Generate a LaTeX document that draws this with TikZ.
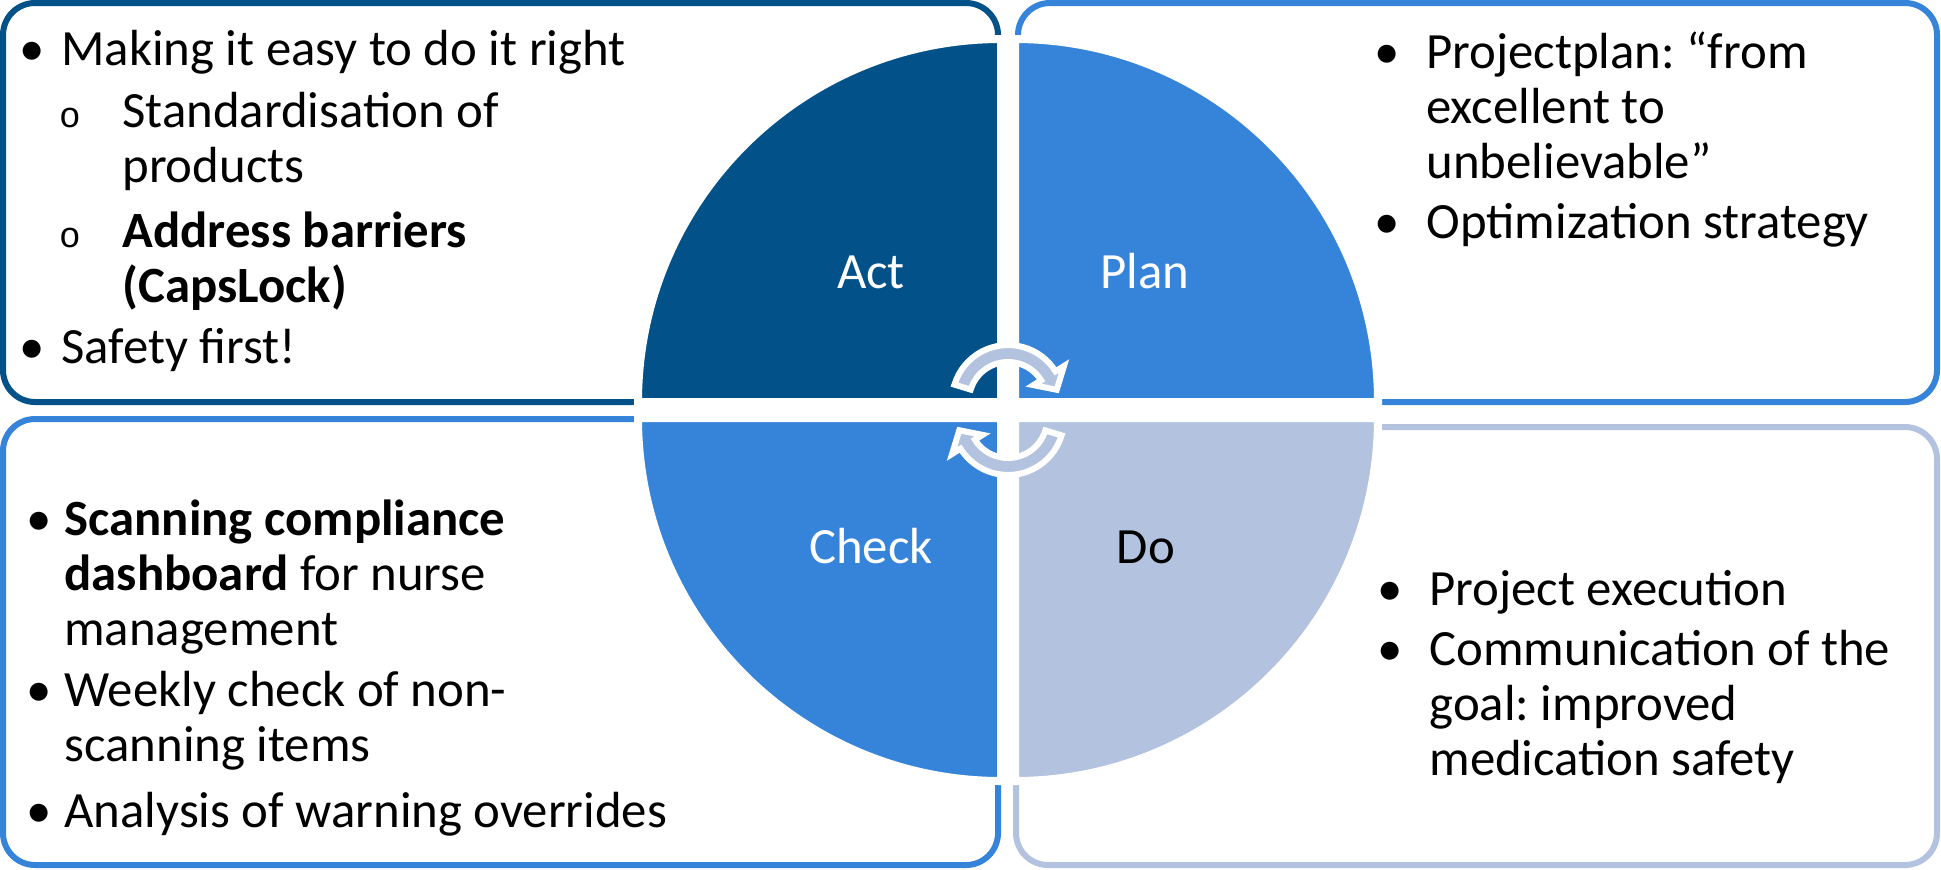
\documentclass[tikz,border=0pt]{standalone}
\usepackage{fontspec}
\setmainfont{Carlito}
\newfontfamily\subfont{Liberation Mono}
\frenchspacing
\definecolor{actblue}{RGB}{2,81,137}
\definecolor{planblue}{RGB}{53,132,218}
\definecolor{doblue}{RGB}{179,195,223}
\newcommand{\itemsize}{\fontsize{25.4pt}{27.5pt}\selectfont}
% lines of one bullet, the first baseline is the baseline of the node
\newcommand{\itemlines}[1]{\begin{tabular}[t]{@{}l@{}}#1\end{tabular}}
\tikzstyle{panel} = [line width=3pt, rounded corners=16pt]
\tikzstyle{quarter} = [draw=white, line width=4pt]
\tikzstyle{turn} = [fill=doblue, draw=white, line width=3pt, line join=miter]
\tikzstyle{phase} = [font=\itemsize, inner sep=0pt, anchor=base]
\tikzstyle{item} = [font=\itemsize, inner sep=0pt, anchor=base west]
\tikzstyle{bolditem} = [item, font=\itemsize\bfseries]
\tikzstyle{dot} = [font=\itemsize, inner sep=0pt, anchor=base]
\tikzstyle{subdot} = [font=\subfont\fontsize{18pt}{18pt}\selectfont, inner sep=0pt, anchor=base]

\begin{document}
\begin{tikzpicture}[x=0.5pt, y=-0.5pt]
    \useasboundingbox (0,0) rectangle (1941,869);
    % We start by placing the four text panels
    \draw [panel, draw=actblue] (3,3) rectangle (998,402);
    \draw [panel, draw=planblue] (1018,3) rectangle (1937,402);
    \draw [panel, draw=planblue] (3,419) rectangle (998,865);
    \draw [panel, draw=doblue] (1016,427) rectangle (1937,865);

    % The circle is cut in four quarters, the white outline makes the gaps
    \filldraw [quarter, fill=actblue] (1001,402) -- ++(-363,0) arc (180:270:363) -- cycle;
    \filldraw [quarter, fill=planblue] (1015,402) -- ++(0,-363) arc (270:360:363) -- cycle;
    \filldraw [quarter, fill=doblue] (1015,418) -- ++(363,0) arc (0:90:363) -- cycle;
    \filldraw [quarter, fill=planblue] (1001,418) -- ++(0,363) arc (90:180:363) -- cycle;

    % Two curved arrows in the middle, the second one turned half round
    \foreach \cy/\turn in {401/0, 419/180} {
        \begin{scope}[shift={(1008,\cy)}, rotate=\turn]
            \filldraw [turn] (197:56) arc (197:328:56) -- (328:66) -- (347:50)
                -- (328:30) -- (328:39) arc (328:197:39) -- cycle;
        \end{scope}
    }

    \node [phase, text=white] (act) at (871,288) {Act};
    \node [phase, text=white] (plan) at (1145,288) {Plan};
    \node [phase, text=white] (check) at (871,563) {Check};
    \node [phase] (do) at (1146,563) {Do};

    % Act panel
    \node [dot] (actdot1) at (32,65) {•};
    \node [item] (act1) at (61,65) {Making it easy to do it right};
    \node [subdot] (actsub1) at (70,127) {o};
    \node [item] (act2) at (122,127) {\itemlines{Standardisation of\\products}};
    \node [subdot] (actsub2) at (70,247) {o};
    \node [bolditem] (act3) at (122,247) {\itemlines{Address barriers\\(CapsLock)}};
    \node [dot] (actdot2) at (32,363) {•};
    \node [item] (act4) at (61,363) {Safety first!};

    % Plan panel
    \node [dot] (plandot1) at (1387,68) {•};
    \node [item] (plan1) at (1426,68) {\itemlines{Projectplan: “from\\excellent to\\unbelievable”}};
    \node [dot] (plandot2) at (1387,238) {•};
    \node [item] (plan2) at (1426,238) {Optimization strategy};

    % Check panel
    \node [dot] (checkdot1) at (39,535) {•};
    \node [item] (check1) at (64,535) {\itemlines{\textbf{Scanning compliance}\\\textbf{dashboard} for nurse\\management}};
    \node [dot] (checkdot2) at (39,706) {•};
    \node [item] (check2) at (64,706) {\itemlines{Weekly check of non-\\scanning items}};
    \node [dot] (checkdot3) at (39,827) {•};
    \node [item] (check3) at (64,827) {Analysis of warning overrides};

    % Do panel
    \node [dot] (dodot1) at (1390,605) {•};
    \node [item] (do1) at (1429,605) {Project execution};
    \node [dot] (dodot2) at (1390,665) {•};
    \node [item] (do2) at (1429,665) {\itemlines{Communication of the\\goal: improved\\medication safety}};
\end{tikzpicture}
\end{document}
